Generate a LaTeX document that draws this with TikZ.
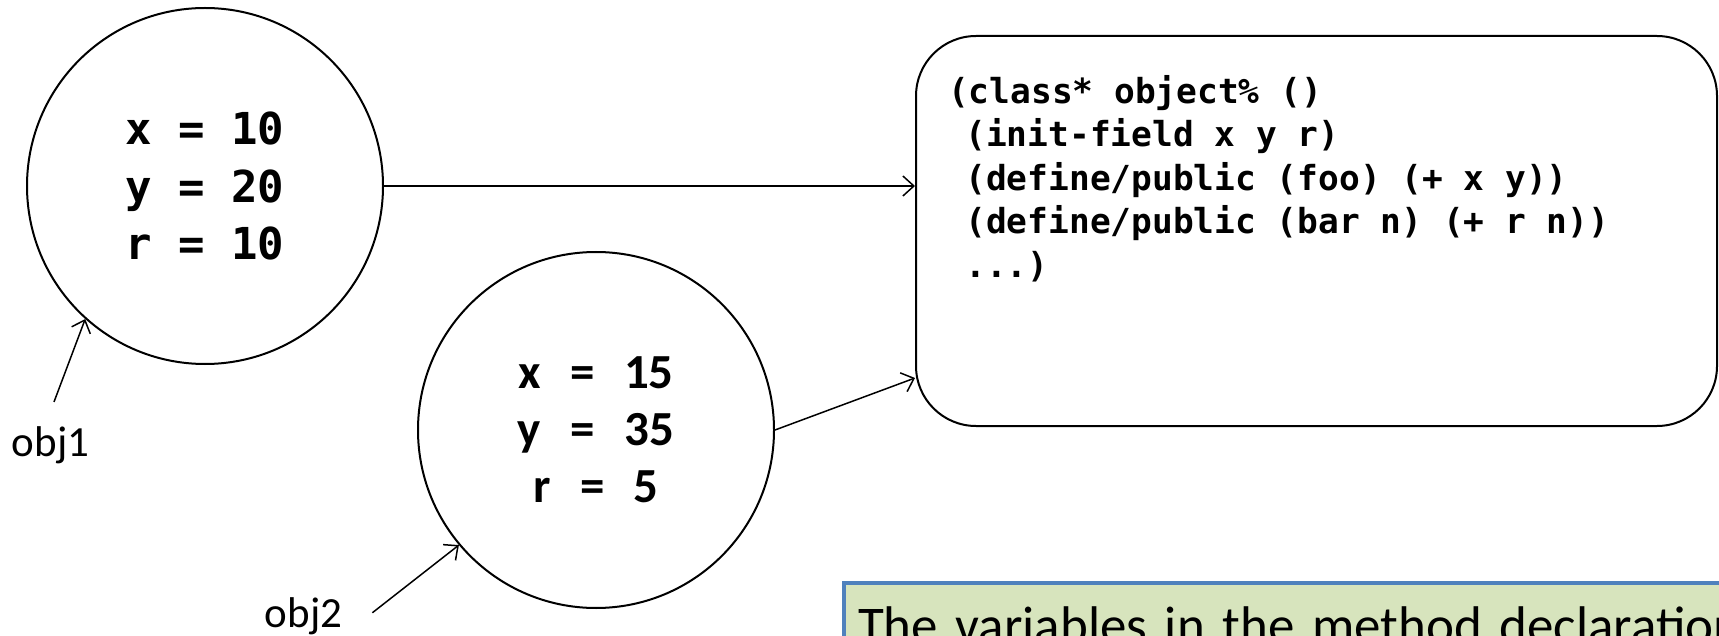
\documentclass[tikz,border=0pt]{standalone}
\usepackage{fontspec}
\setmainfont{Carlito}
\newfontfamily\codefont{DejaVu Sans Mono}
\usetikzlibrary{arrows.meta,positioning}

\definecolor{notefill}{HTML}{D7E4BD}
\definecolor{noteline}{HTML}{4F81BD}
\newcommand{\objeq}{\hspace{0.6em}=\hspace{0.6em}}
\newcommand{\ind}{\hspace{0.5em}}

\begin{document}
\begin{tikzpicture}[x=1pt,y=-1pt,>={Straight Barb[length=11pt,width=20pt]},
            obj node/.style={circle,draw,line width=2pt,inner sep=0pt,
             minimum size=356pt,align=center},
            code box/.style={draw,line width=2pt,rounded corners=60pt,
             minimum width=801pt,minimum height=390pt},
            code text/.style={inner sep=0pt,align=left,
             font=\codefont\bfseries\fontsize{34.5}{43.5}\selectfont},
            obj label/.style={inner sep=0pt,font=\fontsize{43}{50}\selectfont},
            note box/.style={fill=notefill,draw=noteline,line width=4pt,
             inner xsep=14pt,inner ysep=24pt,text width=1000pt,align=left,
             font=\fontsize{53}{60}\selectfont},
            link/.style={->,line width=1.5pt}]

            \useasboundingbox (0,0) rectangle (1719,636);
            \clip (0,0) rectangle (1719,636);

            \node[obj node,font=\codefont\bfseries\fontsize{44}{57.5}\selectfont]
              (obj1) at (205,186) {x = 10\\y = 20\\r = 10};
            \node[obj node,font=\bfseries\fontsize{49}{57}\selectfont]
              (obj2) at (596,430) {x\objeq 15\\y\objeq 35\\r\objeq 5};

            \node[code box,anchor=north west] (box) at (915,35) {};
            \node[code text,below right=40pt and 33pt of box.north west] (code) {%
              (class* object\% ()\\
              \ind(init-field x y r)\\
              \ind(define/public (foo) (+ x y))\\
              \ind(define/public (bar n) (+ r n))\\
              \ind...)};

            \node[obj label,anchor=base] (lbl1) at (50.5,456) {obj1};
            \node[obj label,anchor=base] (lbl2) at (303.5,627) {obj2};

            \node[note box,anchor=north west] (note) at (842,581)
              {The variables in the method declaration};

            \coordinate (box in) at ([yshift=49pt]box.south west);

            \draw[link] (obj1.east) -- (obj1.east -| box.west);
            \draw[link] (obj2.east) -- (box in);
            \draw[link] ([xshift=3.5pt,yshift=24pt]lbl1.north) -- (obj1.228);
            \draw[link] ([xshift=30pt,yshift=3pt]lbl2.east) -- (obj2.220);

\end{tikzpicture}
\end{document}
